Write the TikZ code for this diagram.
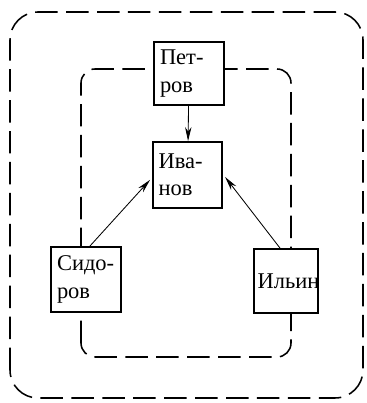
\documentclass[tikz,border=0pt]{standalone}
\usepackage{fontspec}
\setmainfont{Liberation Serif}
\usetikzlibrary{arrows, arrows.meta}
\usetikzlibrary{calc}

\begin{document}
\begin{tikzpicture}[
    person/.style={draw, line width=1.3pt, fill=white, align=left, text width=1.45cm,
      inner xsep=0.14cm, minimum height=1.6cm,
      font=\fontsize{16}{19.5}\selectfont},
    group/.style={line width=1.1pt, dash pattern=on 16pt off 6pt},
    link/.style={line width=0.6pt, -{Stealth[length=3.5mm, width=1.6mm]}}
  ]
      \useasboundingbox (0,0) rectangle (9.15,10.075);

      \draw[group, rounded corners=0.7cm] (0.25,0.125) rectangle (9.075,9.775);
      \draw[group, rounded corners=0.35cm] (2.025,1.15) rectangle (7.275,8.35);

      \node[person, minimum height=1.575cm] (petrov) at (4.725,8.24) {Пет-\\ров};
      \node[person, minimum height=1.65cm] (ivanov) at (4.69,5.7) {Ива-\\нов};
      \node[person, minimum height=1.625cm] (sidorov) at (2.15,3.09) {Сидо-\\ров};
      \node[person, text width=1.42cm, inner xsep=0.1cm] (ilyin) at (7.15,3.05) {Ильин};

      \draw[link] (petrov) -- (ivanov);
      \draw[link] ($(sidorov.north)+(0.1,0)$) -- ($(ivanov.west)+(-0.05,-0.12)$);
      \draw[link] ($(ilyin.north)+(-0.15,0)$) -- ($(ivanov.east)+(0.05,-0.05)$);
\end{tikzpicture}
\end{document}
